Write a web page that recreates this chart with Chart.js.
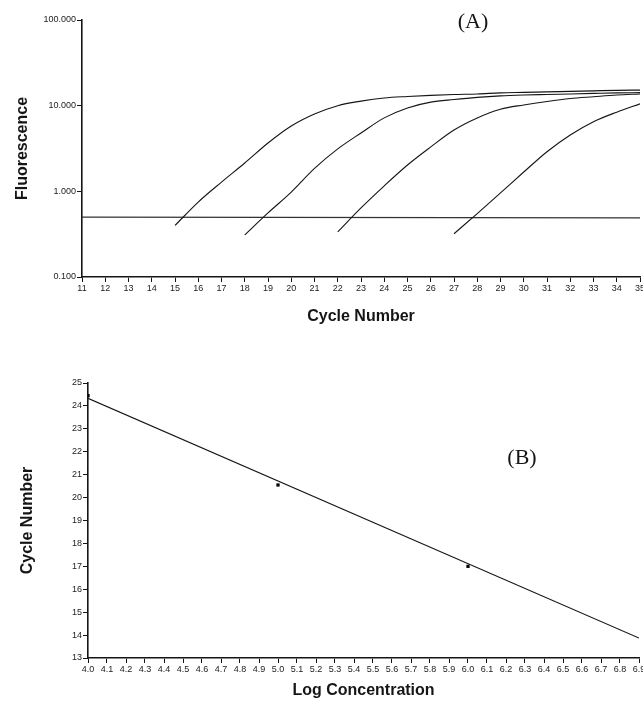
<!DOCTYPE html>
<html>
<head>
<meta charset="utf-8">
<script src="https://cdn.jsdelivr.net/npm/chart.js@4.4.0/dist/chart.umd.min.js"></script>
<style>
  html, body { margin: 0; padding: 0; background: #fff; }
  #wrap { position: relative; width: 643px; height: 709px; overflow: hidden; }
  canvas { position: absolute; left: 0; }
  #chartA { top: 0; }
  #chartB { top: 345px; }
</style>
</head>
<body>
<div id="wrap">
  <canvas id="chartA" width="643" height="345"></canvas>
  <canvas id="chartB" width="643" height="364"></canvas>
</div>
<script>
// (A) amplification curves, fluorescence per cycle
const cycles = [11, 12, 13, 14, 15, 16, 17, 18, 19, 20, 21, 22, 23, 24, 25, 26, 27, 28, 29, 30, 31, 32, 33, 34, 35];
const run1 = [null, null, null, null, 0.40, 0.75, 1.28, 2.14, 3.67, 5.8, 8.0, 10.0, 11.3, 12.3, 12.8, 13.2, 13.5, 13.7, 14.1, 14.3, 14.5, 14.7, 14.9, 15.1, 15.2];
const run2 = [null, null, null, null, null, null, null, 0.31, 0.56, 0.98, 1.85, 3.13, 4.8, 7.2, 9.4, 11.0, 11.8, 12.5, 13.0, 13.3, 13.5, 13.7, 13.9, 14.1, 14.2];
const run3 = [null, null, null, null, null, null, null, null, null, null, null, 0.336, 0.64, 1.16, 2.03, 3.3, 5.2, 7.2, 9.1, 10.2, 11.2, 12.1, 12.7, 13.3, 13.7];
const run4 = [null, null, null, null, null, null, null, null, null, null, null, null, null, null, null, null, 0.32, 0.55, 0.96, 1.68, 2.9, 4.55, 6.5, 8.4, 10.5];
const thresholdCycles = [11, 35];
const thresholdLevel = [0.5, 0.49];
const fluorTicks = [0.1, 1, 10, 100];

// (B) standard curve
const logConc = [4.0, 5.0, 6.0];
const ctValues = [24.45, 20.55, 17.0];
const fitConc = [4.0, 6.9];
const fitCt = [24.33, 13.87];

const INK = '#151515';
const tickFont = { family: '"Liberation Sans", Arial, sans-serif', size: 9 };
const titleFont = { family: '"Liberation Sans", Arial, sans-serif', size: 16, weight: 'bold' };

const panelLabel = {
    id: 'panelLabel',
    afterDraw(chart, args, opts) {
        const ctx = chart.ctx;
        ctx.save();
        ctx.font = '22px "Liberation Serif", "Times New Roman", serif';
        ctx.fillStyle = INK;
        ctx.textAlign = 'center';
        ctx.textBaseline = 'middle';
        ctx.fillText(opts.text, opts.x, opts.y);
        ctx.restore();
    }
};

function axisStyle(extra) {
    return Object.assign({
        border: { display: true, color: INK, width: 1.6 },
        grid: { display: true, drawOnChartArea: false, drawTicks: true, tickLength: 5, tickColor: INK, tickWidth: 1 },
        ticks: { color: '#222', font: tickFont, padding: 1, autoSkip: false, maxRotation: 0 }
    }, extra);
}

function curve(values) {
    return {
        data: values.map((v, i) => ({ x: cycles[i], y: v })),
        borderColor: INK,
        borderWidth: 1.1,
        pointRadius: 0,
        fill: false,
        cubicInterpolationMode: 'monotone',
        spanGaps: false
    };
}

Chart.defaults.animation = false;

new Chart(document.getElementById('chartA'), {
    type: 'line',
    data: {
        datasets: [
            curve(run1), curve(run2), curve(run3), curve(run4),
            {
                data: thresholdCycles.map((c, i) => ({ x: c, y: thresholdLevel[i] })),
                borderColor: '#333',
                borderWidth: 1.2,
                pointRadius: 0,
                fill: false
            }
        ]
    },
    options: {
        responsive: false,
        layout: { padding: { top: 20, right: 3, left: 0, bottom: 0 } },
        plugins: {
            legend: { display: false },
            tooltip: { enabled: false },
            panelLabel: { text: '(A)', x: 473, y: 22 }
        },
        scales: {
            x: axisStyle({
                type: 'linear',
                min: cycles[0],
                max: cycles[cycles.length - 1],
                ticks: { color: '#222', font: tickFont, padding: 1, autoSkip: false, maxRotation: 0, stepSize: 1 },
                title: { display: true, text: 'Cycle Number', color: INK, font: titleFont, padding: { top: 0, bottom: 19 } },
                afterFit: s => { s.height = 68; s.paddingLeft = 0; s.paddingRight = 0; }
            }),
            y: axisStyle({
                type: 'logarithmic',
                min: 0.1,
                max: 100,
                afterBuildTicks: s => { s.ticks = fluorTicks.map(v => ({ value: v })); },
                ticks: { color: '#222', font: tickFont, padding: 1, autoSkip: false, callback: v => Number(v).toFixed(3) },
                title: { display: true, text: 'Fluorescence', color: INK, font: titleFont, padding: { top: 13, bottom: 0 } },
                afterFit: s => { s.width = 82; }
            })
        }
    },
    plugins: [panelLabel]
});

new Chart(document.getElementById('chartB'), {
    type: 'scatter',
    data: {
        datasets: [
            {
                type: 'line',
                data: fitConc.map((c, i) => ({ x: c, y: fitCt[i] })),
                borderColor: INK,
                borderWidth: 1.1,
                pointRadius: 0,
                fill: false
            },
            {
                data: logConc.map((c, i) => ({ x: c, y: ctValues[i] })),
                backgroundColor: '#000',
                borderColor: '#000',
                pointStyle: 'rect',
                pointRadius: 2.3,
                borderWidth: 0
            }
        ]
    },
    options: {
        responsive: false,
        layout: { padding: { top: 38, right: 1, left: 0, bottom: 0 } },
        plugins: {
            legend: { display: false },
            tooltip: { enabled: false },
            panelLabel: { text: '(B)', x: 522, y: 113 }
        },
        scales: {
            x: axisStyle({
                type: 'linear',
                min: 4.0,
                max: 6.9,
                ticks: { color: '#222', font: tickFont, padding: 1, autoSkip: false, maxRotation: 0, stepSize: 0.1, callback: v => Number(v).toFixed(1) },
                title: { display: true, text: 'Log Concentration', color: INK, font: titleFont, padding: { top: 0, bottom: 9 } },
                afterFit: s => { s.height = 51; s.paddingLeft = 0; s.paddingRight = 0; }
            }),
            y: axisStyle({
                type: 'linear',
                min: 13,
                max: 25,
                ticks: { color: '#222', font: tickFont, padding: 1, autoSkip: false, stepSize: 1 },
                title: { display: true, text: 'Cycle Number', color: INK, font: titleFont, padding: { top: 18, bottom: 0 } },
                afterFit: s => { s.width = 88; }
            })
        }
    },
    plugins: [panelLabel]
});
</script>
</body>
</html>
